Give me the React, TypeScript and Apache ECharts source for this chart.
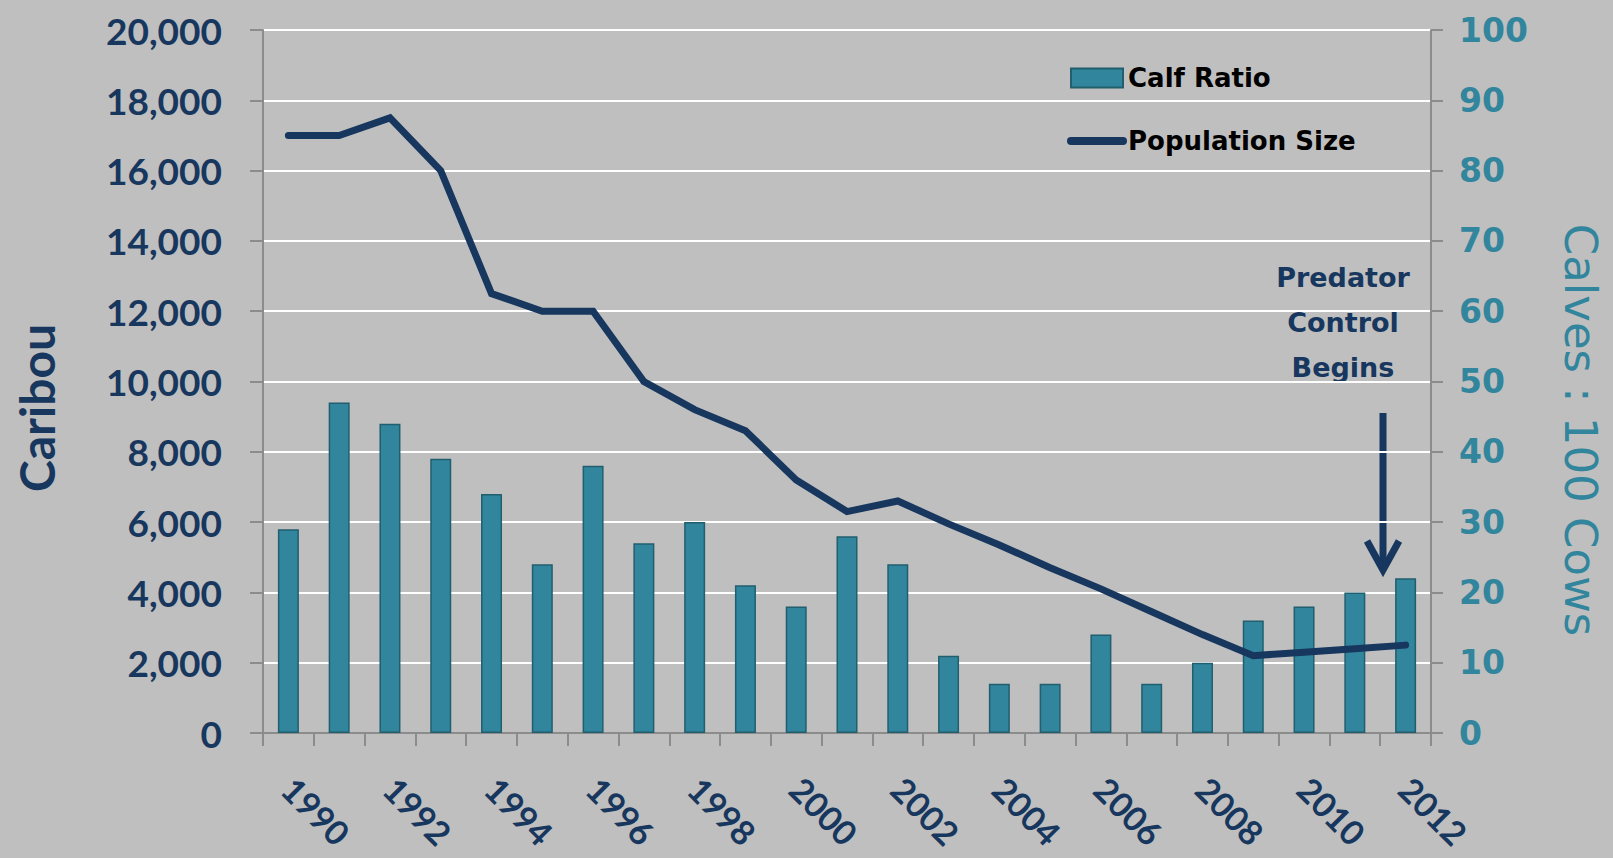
import React, { useEffect, useRef } from "react";
import * as echarts from "echarts";

const years = [
  "1990", "1991", "1992", "1993", "1994", "1995", "1996", "1997", "1998", "1999", "2000", "2001",
  "2002", "2003", "2004", "2005", "2006", "2007", "2008", "2009", "2010", "2011", "2012",
];
const populationSize = [
  17000, 17000, 17500, 16000, 12500, 12000, 12000, 10000, 9200, 8600, 7200, 6300,
  6600, 5950, 5350, 4700, 4100, 3450, 2800, 2200, 2300, 2400, 2500,
];
const calfRatio = [
  29, 47, 44, 39, 34, 24, 38, 27, 30, 21, 18, 28,
  24, 11, 7, 7, 14, 7, 10, 16, 18, 20, 22,
];

const NAVY = "#17375e";
const TEAL = "#31859c";
const GRAY = "#8c8c8c";

export default function App() {
  const ref = useRef<HTMLDivElement>(null);
  useEffect(() => {
    if (!ref.current) return;
    const chart = echarts.init(ref.current, null, { renderer: "svg" });
    chart.setOption({
      animation: false,
      backgroundColor: "#bfbfbf",
      grid: { left: 263, top: 30, right: 182, bottom: 125, containLabel: false },
      legend: {
        orient: "vertical",
        left: 1062,
        top: 60,
        itemWidth: 52,
        itemHeight: 19,
        itemGap: 37,
        textStyle: { fontFamily: "DejaVu Sans", fontWeight: "bold", fontSize: 26, color: "#000" },
        data: [
          { name: "Calf Ratio", icon: "rect" },
          {
            name: "Population Size",
            itemStyle: { opacity: 0 },
            lineStyle: { width: 8, cap: "round", color: NAVY },
          },
        ],
      },
      xAxis: {
        type: "category",
        data: years,
        boundaryGap: true,
        axisLine: { show: true, lineStyle: { color: GRAY, width: 2 } },
        axisTick: { show: true, interval: 0, length: 13, lineStyle: { color: GRAY, width: 2 } },
        axisLabel: {
          interval: 1,
          rotate: -45,
          margin: 50,
          color: NAVY,
          fontFamily: "Lato",
          fontWeight: "bold",
          fontSize: 34,
        },
        splitLine: { show: false },
      },
      yAxis: [
        {
          type: "value",
          min: 0,
          max: 20000,
          interval: 2000,
          position: "left",
          axisLine: { show: true, lineStyle: { color: GRAY, width: 2 } },
          axisTick: { show: true, length: 13, lineStyle: { color: GRAY, width: 2 } },
          axisLabel: {
            margin: 41,
            color: NAVY,
            fontFamily: "Lato",
            fontWeight: "bold",
            fontSize: 37,
            formatter: (v: number) => v.toLocaleString("en-US"),
          },
          splitLine: { show: true, lineStyle: { color: "#ffffff", width: 2 } },
        },
        {
          type: "value",
          min: 0,
          max: 100,
          interval: 10,
          position: "right",
          axisLine: { show: true, lineStyle: { color: GRAY, width: 2 } },
          axisTick: { show: true, length: 12, lineStyle: { color: GRAY, width: 2 } },
          axisLabel: {
            margin: 28,
            color: TEAL,
            fontFamily: "DejaVu Sans",
            fontWeight: "bold",
            fontSize: 33,
          },
          splitLine: { show: false },
        },
      ],
      series: [
        {
          name: "Calf Ratio",
          type: "bar",
          yAxisIndex: 1,
          data: calfRatio,
          barWidth: 21,
          itemStyle: { color: TEAL, borderColor: "#215f6f", borderWidth: 1.5 },
        },
        {
          name: "Population Size",
          type: "line",
          yAxisIndex: 0,
          data: populationSize,
          symbol: "none",
          lineStyle: { color: NAVY, width: 7, cap: "round", join: "miter" },
          itemStyle: { color: NAVY },
        },
      ],
      graphic: [
        {
          type: "text",
          x: 36,
          y: 408,
          rotation: Math.PI / 2,
          style: {
            text: "Caribou",
            font: 'bold 48px "Lato"',
            fill: NAVY,
            align: "center",
            verticalAlign: "middle",
          },
        },
        {
          type: "text",
          x: 1580,
          y: 430,
          rotation: -Math.PI / 2,
          style: {
            text: "Calves : 100 Cows",
            font: '45px "DejaVu Sans"',
            fill: TEAL,
            align: "center",
            verticalAlign: "middle",
          },
        },
        {
          type: "text",
          x: 1343,
          y: 322,
          style: {
            text: "Predator\nControl\nBegins",
            font: 'bold 27px "DejaVu Sans"',
            lineHeight: 45,
            fill: NAVY,
            align: "center",
            verticalAlign: "middle",
          },
        },
        {
          type: "line",
          shape: { x1: 1383, y1: 413, x2: 1383, y2: 568 },
          style: { stroke: NAVY, lineWidth: 7 },
        },
        {
          type: "polyline",
          shape: { points: [[1367, 541], [1383, 570], [1399, 541]] },
          style: { stroke: NAVY, lineWidth: 7, fill: null, lineJoin: "miter" },
        },
      ],
    });
    return () => chart.dispose();
  }, []);
  return (
    <div
      ref={ref}
      style={{ position: "fixed", left: 0, top: 0, width: 1613, height: 858 }}
    />
  );
}
